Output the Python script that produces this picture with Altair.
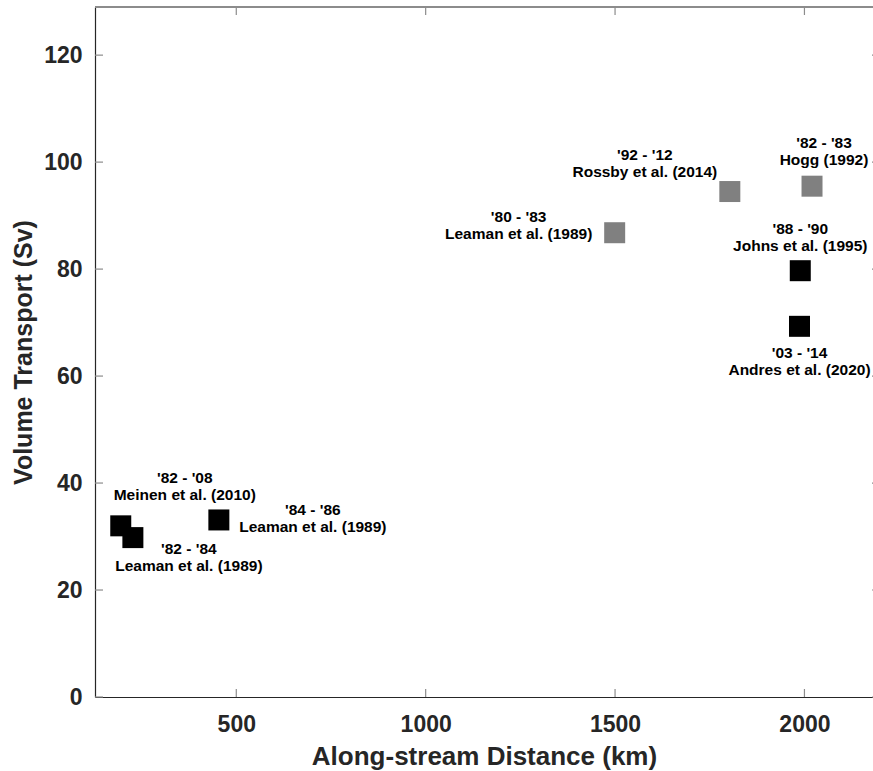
import altair as alt
import pandas as pd

# ---- data ----
distance_km = [195, 227, 454, 1499, 1803, 2020, 1989, 1987]
transport_sv = [32.0, 29.8, 33.1, 86.8, 94.5, 95.5, 79.7, 69.3]
period = ["'82 - '08", "'82 - '84", "'84 - '86", "'80 - '83",
          "'92 - '12", "'82 - '83", "'88 - '90", "'03 - '14"]
source = ["Meinen et al. (2010)", "Leaman et al. (1989)", "Leaman et al. (1989)",
          "Leaman et al. (1989)", "Rossby et al. (2014)", "Hogg (1992)",
          "Johns et al. (1995)", "Andres et al. (2020)"]
shade = ["black", "black", "black", "gray", "gray", "gray", "black", "black"]

x_ticks = [500, 1000, 1500, 2000]
y_ticks = [0, 20, 40, 60, 80, 100, 120]

# label offsets (pixels, first line anchor) relative to each square: styling only
label_offsets = [(64, -48), (56, 11), (94, -10), (-96, -16),
                 (-85, -37), (12, -43), (0, -42), (0, 27)]

W, H = 778, 690
FONT = "Liberation Sans"
AXC = "#262626"
TICKC = "#8c8c8c"

df = pd.DataFrame({
    "idx": list(range(len(distance_km))),
    "dist": distance_km,
    "vt": transport_sv,
    "label": [p + "\n" + s for p, s in zip(period, source)],
    "shade": shade,
})
dx_ticks = pd.DataFrame({"t": x_ticks})
dy_ticks = pd.DataFrame({"t": y_ticks})

xs = alt.Scale(domain=[127, 2181], nice=False, zero=False)
ys = alt.Scale(domain=[0, 129], nice=False, zero=False)

xa = alt.Axis(values=x_ticks, format="d", ticks=False, grid=False,
              domainColor=AXC, domainWidth=1.2,
              labelFont=FONT, labelFontSize=23, labelFontWeight="bold",
              labelColor=AXC, labelPadding=16, labelFlush=False,
              title="Along-stream Distance (km)", titleFont=FONT,
              titleFontSize=26, titleFontWeight="bold", titleColor=AXC,
              titlePadding=7)
ya = alt.Axis(values=y_ticks, format="d", ticks=False, grid=False,
              domainColor=AXC, domainWidth=1.2,
              labelFont=FONT, labelFontSize=23, labelFontWeight="bold",
              labelColor=AXC, labelPadding=13, labelFlush=False,
              title="Volume Transport (Sv)", titleFont=FONT,
              titleFontSize=25, titleFontWeight="bold", titleColor=AXC,
              titlePadding=7)

base = alt.Chart(df)

points = base.mark_square(size=441, opacity=1, filled=True).encode(
    x=alt.X("dist:Q", scale=xs, axis=xa),
    y=alt.Y("vt:Q", scale=ys, axis=ya),
    color=alt.Color("shade:N", scale=alt.Scale(domain=["black", "gray"],
                                               range=["#000000", "#808080"]),
                    legend=None),
)

layers = [points]
# inward ticks
layers.append(alt.Chart(dx_ticks).mark_rule(color=TICKC, strokeWidth=1.2).encode(
    x=alt.X("t:Q", scale=xs, axis=xa), y=alt.value(H), y2=alt.value(H - 8)))
layers.append(alt.Chart(dx_ticks).mark_rule(color=TICKC, strokeWidth=1.2).encode(
    x=alt.X("t:Q", scale=xs, axis=xa), y=alt.value(0), y2=alt.value(8)))
layers.append(alt.Chart(dy_ticks).mark_rule(color=TICKC, strokeWidth=1.2).encode(
    y=alt.Y("t:Q", scale=ys, axis=ya), x=alt.value(0), x2=alt.value(8)))
layers.append(alt.Chart(dy_ticks).mark_rule(color=TICKC, strokeWidth=1.2).encode(
    y=alt.Y("t:Q", scale=ys, axis=ya), x=alt.value(W - 1), x2=alt.value(W + 7)))
# top frame line
layers.append(alt.Chart(dx_ticks).mark_rule(color=TICKC, strokeWidth=2).encode(
    x=alt.value(0), x2=alt.value(W), y=alt.value(0)))

for i, (ddx, ddy) in enumerate(label_offsets):
    layers.append(
        base.transform_filter(alt.datum.idx == i).mark_text(
            lineBreak="\n", align="center", baseline="middle", dx=ddx, dy=ddy,
            font=FONT, fontSize=15.5, fontWeight="bold", color="#000000",
            lineHeight=17,
        ).encode(
            x=alt.X("dist:Q", scale=xs, axis=xa),
            y=alt.Y("vt:Q", scale=ys, axis=ya),
            text="label:N",
        )
    )

chart = alt.layer(*layers).properties(
    width=W, height=H,
    autosize=alt.AutoSizeParams(type="none"),
    padding={"left": 95, "top": 7, "right": 0, "bottom": 74},
    background="white",
).configure_view(stroke=None)

chart.save("out.html", embed_options={"renderer": "svg", "actions": False})
